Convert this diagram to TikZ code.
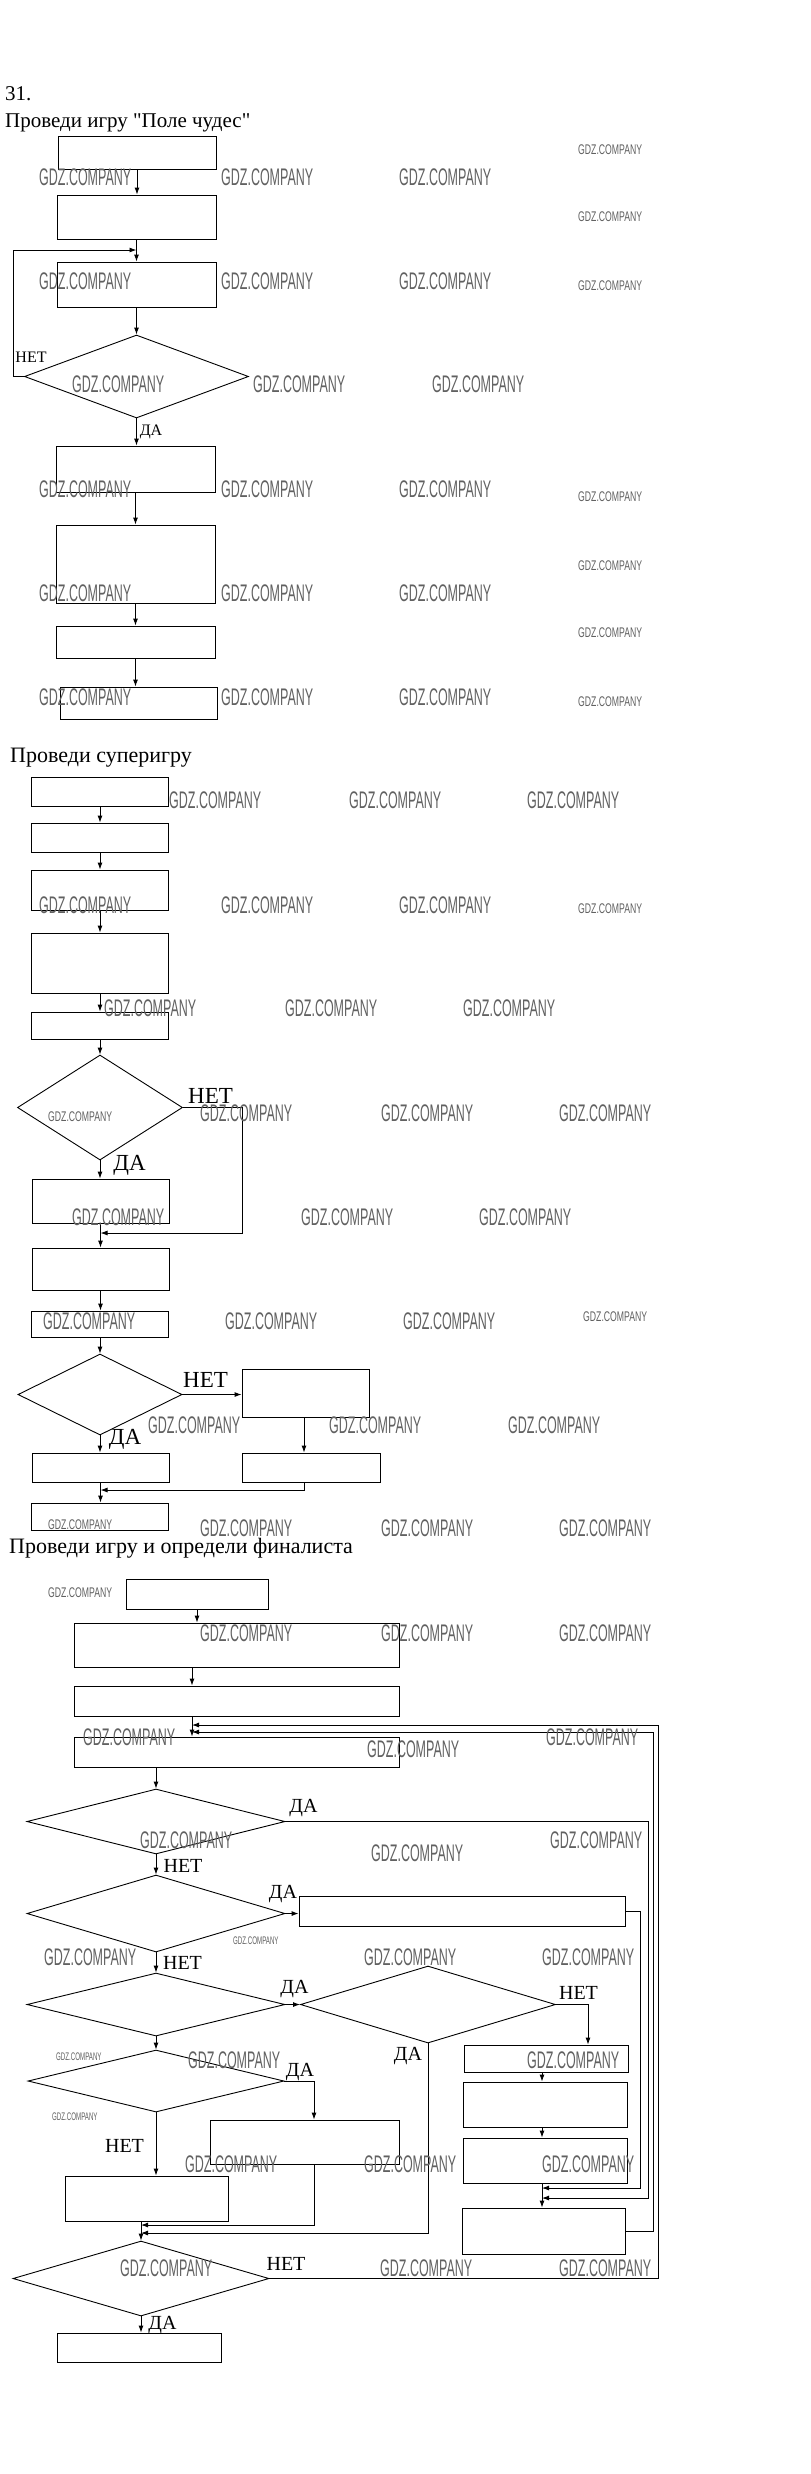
\documentclass[tikz,border=0pt]{standalone}
\usepackage{fontspec}
\setmainfont{Liberation Serif}[Ligatures=TeXOff]
\newfontfamily\wmB[FakeStretch=0.52]{Liberation Sans}
\newfontfamily\wmS[FakeStretch=0.62]{Liberation Sans}
\newfontfamily\wmT[FakeStretch=0.56]{Liberation Sans}
\usetikzlibrary{arrows.meta,shapes.geometric,calc}
\tikzset{
 bx/.style={draw, line width=0.9pt, inner sep=0pt},
 dm/.style={draw, diamond, line width=0.9pt, inner sep=0pt},
 arr/.style={line width=0.9pt, -{Latex[length=7pt,width=5pt]}},
 lbA/.style={inner sep=0pt, font=\fontsize{16}{16}\selectfont},
 lbB/.style={inner sep=0pt, font=\fontsize{23}{23}\selectfont},
 lbC/.style={inner sep=0pt, font=\fontsize{20}{20}\selectfont},
 ttl/.style={inner sep=0pt, anchor=base west, font=\fontsize{21}{21}\selectfont},
 ttlb/.style={inner sep=0pt, anchor=base west, font=\fontsize{22}{22}\selectfont},
 wb/.style={inner sep=0pt, anchor=west, text=black!62, font=\wmB\fontsize{24}{24}\selectfont},
 ws/.style={inner sep=0pt, anchor=west, text=black!62, font=\wmS\fontsize{14}{14}\selectfont},
 wt/.style={inner sep=0pt, anchor=west, text=black!62, font=\wmT\fontsize{11}{11}\selectfont},
}
\begin{document}
\begin{tikzpicture}[x=1pt,y=-1pt]
\useasboundingbox (0,0) rectangle (811,2474);
\fill[white] (0,0) rectangle (811,2474);

% ---------- titles ----------
\node[ttl] (t0) at (5,100) {31.};
\node[ttl] (t1) at (5,127) {Проведи игру "Поле чудес"};
\node[ttlb] (t2) at (10,762) {Проведи суперигру};
\node[ttlb] (t3) at (9,1553) {Проведи игру и определи финалиста};

% ---------- part 1 ----------
\node[bx, minimum width=158, minimum height=33] (A1) at (137,152.5) {};
\node[bx, minimum width=159, minimum height=44] (A2) at (136.5,217) {};
\node[bx, minimum width=159, minimum height=45] (A3) at (136.5,284.5) {};
\node[dm, minimum width=224, minimum height=83] (D1) at (136.5,376.5) {};
\node[bx, minimum width=159, minimum height=46] (A4) at (135.5,469) {};
\node[bx, minimum width=159, minimum height=78] (A5) at (135.5,564) {};
\node[bx, minimum width=159, minimum height=32] (A6) at (135.5,642) {};
\node[bx, minimum width=157, minimum height=32] (A7) at (138.5,703) {};

\draw[arr] (A1.south) -- (A1.south |- A2.north);
\draw[arr] (A2.south) -- (A2.south |- A3.north);
\draw[arr] (A3.south) -- (D1.north);
\draw[arr] (D1.south) -- (D1.south |- A4.north);
\draw[arr] (A4.south) -- (A4.south |- A5.north);
\draw[arr] (A5.south) -- (A5.south |- A6.north);
\draw[arr] (A6.south) -- (A6.south |- A7.north);
\coordinate (lp) at (13,250);
\draw[arr] (D1.west) -| (lp) -- (lp -| A3.north);
\node[lbA] (l1) at (31,357) {НЕТ};
\node[lbA] (l2) at (151,432) {ДА};

% ---------- part 2 ----------
\node[bx, minimum width=137, minimum height=29] (B1) at (100,791.5) {};
\node[bx, minimum width=137, minimum height=29] (B2) at (100,837.5) {};
\node[bx, minimum width=137, minimum height=40] (B3) at (100,890) {};
\node[bx, minimum width=137, minimum height=60] (B4) at (100,963) {};
\node[bx, minimum width=137, minimum height=27] (B5) at (100,1025.5) {};
\node[dm, minimum width=165, minimum height=105] (D2) at (100,1107.5) {};
\node[bx, minimum width=137, minimum height=44] (B6) at (100.5,1201) {};
\node[bx, minimum width=137, minimum height=42] (B7) at (100.5,1269) {};
\node[bx, minimum width=137, minimum height=26] (B8) at (100,1324) {};
\node[dm, minimum width=164, minimum height=81] (D3) at (100,1394.5) {};
\node[bx, minimum width=127, minimum height=48] (B9) at (305.5,1393) {};
\node[bx, minimum width=138, minimum height=29] (B10) at (311,1467.5) {};
\node[bx, minimum width=137, minimum height=29] (B11) at (100.5,1467.5) {};
\node[bx, minimum width=137, minimum height=27] (B12) at (100,1516.5) {};

\draw[arr] (B1.south) -- (B1.south |- B2.north);
\draw[arr] (B2.south) -- (B2.south |- B3.north);
\draw[arr] (B3.south) -- (B3.south |- B4.north);
\draw[arr] (B4.south) -- (B4.south |- B5.north);
\draw[arr] (B5.south) -- (D2.north);
\draw[arr] (D2.south) -- (D2.south |- B6.north);
\draw[arr] (B6.south) -- (B6.south |- B7.north);
\draw[arr] (B7.south) -- (B7.south |- B8.north);
\draw[arr] (B8.south) -- (D3.north);
\coordinate (n2) at (242,1233);
\draw[arr] (D2.east) -| (n2) -- (n2 -| B6.south);
\draw[arr] (D3.east) -- (D3.east -| B9.west);
\coordinate (n3) at (304,1490);
\draw[arr] (n3 |- B9.south) -- (n3 |- B10.north);
\draw[arr] (D3.south) -- (D3.south |- B11.north);
\draw[arr] (n3 |- B10.south) -- (n3) -- (n3 -| B11.south);
\draw[arr] (B11.south) -- (B11.south |- B12.north);
\node[lbB] (l3) at (210.5,1096) {НЕТ};
\node[lbB] (l4) at (129.5,1165) {ДА};
\node[lbB] (l5) at (205.5,1379.5) {НЕТ};
\node[lbB] (l6) at (125,1439.5) {ДА};

% ---------- part 3 ----------
\node[bx, minimum width=142, minimum height=30] (C1) at (197,1594) {};
\node[bx, minimum width=325, minimum height=44] (C2) at (236.5,1645) {};
\node[bx, minimum width=325, minimum height=30] (C3) at (236.5,1701) {};
\node[bx, minimum width=325, minimum height=30] (C4) at (236.5,1752) {};
\node[dm, minimum width=258, minimum height=65] (D4) at (156,1821.5) {};
\node[dm, minimum width=258, minimum height=77] (D5) at (156,1913.5) {};
\node[bx, minimum width=326, minimum height=30] (C5) at (462,1911) {};
\node[dm, minimum width=258, minimum height=63] (D6) at (156,2004.5) {};
\node[dm, minimum width=255, minimum height=77] (D8) at (428,2004.5) {};
\node[bx, minimum width=164, minimum height=27] (C6) at (546,2058.5) {};
\node[bx, minimum width=164, minimum height=45] (C7) at (545,2104.5) {};
\node[bx, minimum width=164, minimum height=45] (C8) at (545,2160.5) {};
\node[bx, minimum width=163, minimum height=46] (C9) at (544,2231) {};
\node[dm, minimum width=256, minimum height=62] (D9) at (156,2081) {};
\node[bx, minimum width=189, minimum height=44] (C10) at (304.5,2142) {};
\node[bx, minimum width=163, minimum height=45] (C11) at (146.5,2198.5) {};
\node[dm, minimum width=256, minimum height=75] (D7) at (141,2278.5) {};
\node[bx, minimum width=164, minimum height=29] (C12) at (139,2347.5) {};

\coordinate (k1) at (192,1700);
\coordinate (xc) at (542,2100);
\coordinate (kk) at (141,2230);
\draw[arr] (C1.south) -- (C1.south |- C2.north);
\draw[arr] (k1 |- C2.south) -- (k1 |- C3.north);
\draw[arr] (k1 |- C3.south) -- (k1 |- C4.north);
\draw[arr] (D4.north |- C4.south) -- (D4.north);
\draw[arr] (D4.south) -- (D5.north);
\draw[arr] (D5.east) -- (D5.east -| C5.west);
\draw[arr] (D5.south) -- (D6.north);
\draw[arr] (D6.east) -- (D8.west);
\coordinate (r1) at (588,2004.5);
\draw[arr] (D8.east) -| (r1 |- C6.north);
\draw[arr] (xc |- C6.south) -- (xc |- C7.north);
\draw[arr] (xc |- C7.south) -- (xc |- C8.north);
\draw[arr] (xc |- C8.south) -- (xc |- C9.north);
\draw[arr] (D6.south) -- (D9.north);
\coordinate (r2) at (314,2081);
\draw[arr] (D9.east) -| (r2 |- C10.north);
\draw[arr] (D9.south) -- (D9.south |- C11.north);
\coordinate (s1) at (314,2225);
\draw[arr] (r2 |- C10.south) -- (s1) -- (s1 -| kk);
\coordinate (s2) at (428,2233);
\draw[arr] (D8.south) -- (s2) -- (s2 -| kk);
\draw[arr] (kk |- C11.south) -- (D7.north);
\draw[arr] (D7.south) -- (D7.south |- C12.north);
% right-hand return lines
\coordinate (q1) at (640,2188);
\draw[arr] (C5.east) -| (q1) -- (q1 -| xc);
\coordinate (q2) at (648,2198);
\draw[arr] (D4.east) -| (q2) -- (q2 -| xc);
\coordinate (q3) at (653,1732);
\draw[arr] (C9.east) -| (q3) -- (q3 -| k1);
\coordinate (q4) at (658,1725);
\draw[arr] (D7.east) -| (q4) -- (q4 -| k1);

\node[lbC] (l7) at (303.5,1808.5) {ДА};
\node[lbC] (l8) at (183,1866) {НЕТ};
\node[lbC] (l9) at (283,1894.5) {ДА};
\node[lbC] (l10) at (182.5,1962.5) {НЕТ};
\node[lbC] (l11) at (294.5,1989.5) {ДА};
\node[lbC] (l12) at (578.5,1993) {НЕТ};
\node[lbC] (l13) at (408,2056.5) {ДА};
\node[lbC] (l14) at (300,2071.5) {ДА};
\node[lbC] (l15) at (124.5,2145.5) {НЕТ};
\node[lbC] (l16) at (286,2263.5) {НЕТ};
\node[lbC] (l17) at (162.5,2324.5) {ДА};

% ---------- watermarks ----------
\foreach \x/\y [count=\i] in {
 39/177,221/177,399/177,
 39/281,221/281,399/281,
 72/384,253/384,432/384,
 39/489,221/489,399/489,
 39/593,221/593,399/593,
 39/697,221/697,399/697,
 169/800,349/800,527/800,
 39/905,221/905,399/905,
 104/1008,285/1008,463/1008,
 200/1113,381/1113,559/1113,
 72/1217,301/1217,479/1217,
 43/1321,225/1321,403/1321,
 148/1425,329/1425,508/1425,
 200/1528,381/1528,559/1528,
 200/1633,381/1633,559/1633,
 83/1737,367/1749,546/1737,
 140/1840,371/1853,550/1840,
 44/1957,364/1957,542/1957,
 188/2060,527/2060,
 185/2164,364/2164,542/2164,
 120/2268,380/2268,559/2268}
 \node[wb] (wb\i) at (\x,\y) {GDZ.COMPANY};
\foreach \x/\y [count=\i] in {
 578/150,578/217,578/286,578/497,578/566,578/633,578/702,578/909,
 48/1117,583/1317,48/1525,48/1593}
 \node[ws] (ws\i) at (\x,\y) {GDZ.COMPANY};
\foreach \x/\y [count=\i] in {233/1941,56/2057,52/2117}
 \node[wt] (wt\i) at (\x,\y) {GDZ.COMPANY};
\end{tikzpicture}
\end{document}
